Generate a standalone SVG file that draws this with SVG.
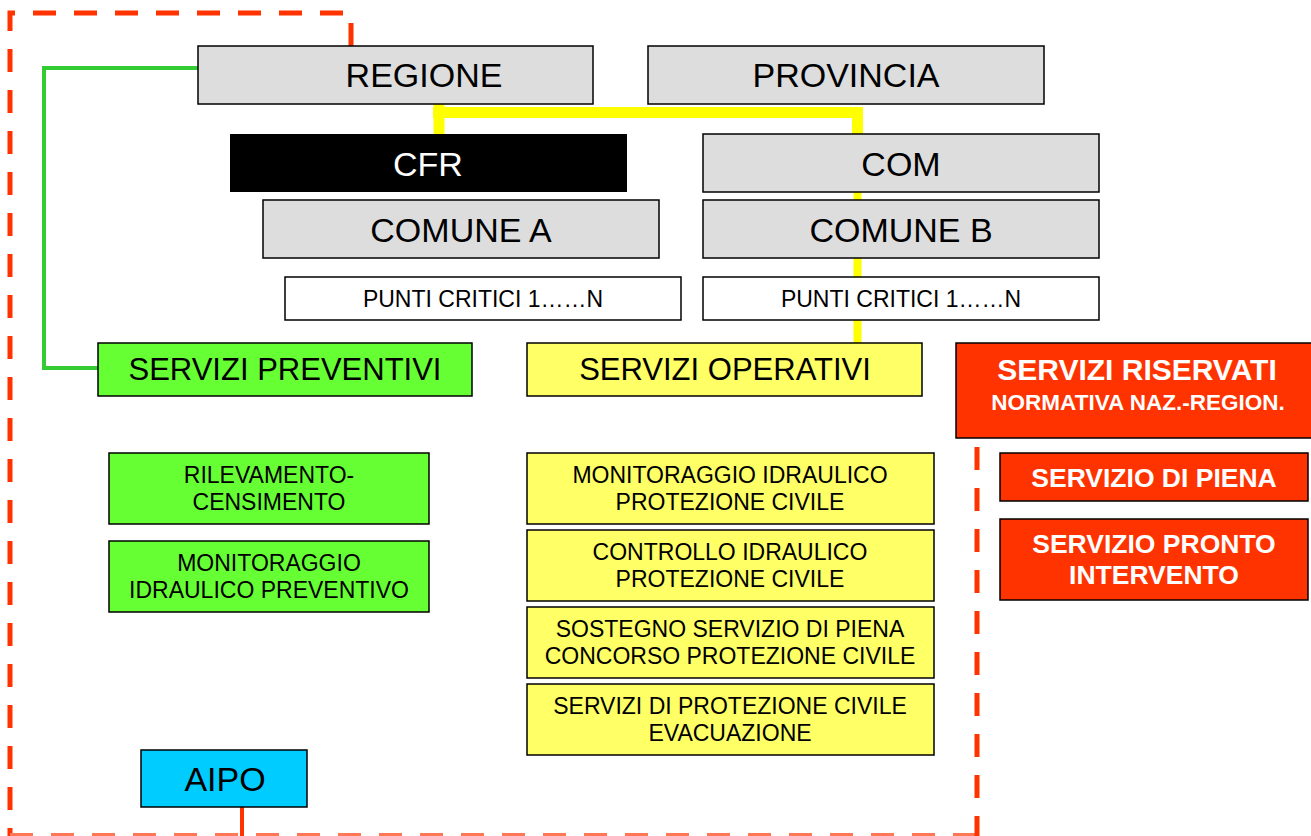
<svg xmlns="http://www.w3.org/2000/svg" width="1311" height="836" viewBox="0 0 1311 836">
<style>
.b{stroke:#000;stroke-width:1.5}
.g{fill:#dddddd}
.t{font-family:"Liberation Sans",Arial,sans-serif;text-anchor:middle;fill:#000}
.big{font-size:34px}
.mid{font-size:31px}
.sm{font-size:23px}
.xs{font-size:23px}
.w{fill:#fff;font-weight:bold}
.dash{fill:none;stroke:#ff3300;stroke-width:5;stroke-dasharray:23 18}
</style>
<rect width="1311" height="836" fill="#fff"/>
<g id="connectors">
<path class="dash" d="M351 46 V13 H10 V836"/>
<path d="M10 834.5 H977" fill="none" stroke="#ff7755" stroke-width="3" stroke-dasharray="23 18"/>
<path class="dash" d="M977 447 V836"/>
<path d="M242 807 V836" stroke="#ff3300" stroke-width="4" fill="none"/>
<path d="M198 68 H44 V368 H98" fill="none" stroke="#33cc33" stroke-width="4"/>
<path d="M439 102 V134 M433 112.5 H857.5 V134" fill="none" stroke="#ffff00" stroke-width="11"/>
<path d="M857.5 192 V200 M857.5 258 V277 M857.5 320 V343" fill="none" stroke="#ffff00" stroke-width="8"/>
</g>
<g id="regione"><rect class="b g" x="198" y="46" width="395" height="58"/><text class="t big" x="424" y="87">REGIONE</text></g>
<g id="provincia"><rect class="b g" x="648" y="46" width="396" height="58"/><text class="t big" x="846" y="87">PROVINCIA</text></g>
<g id="cfr"><rect x="230" y="134" width="397" height="58" fill="#000"/><text class="t big" x="428" y="176" style="fill:#fff">CFR</text></g>
<g id="com"><rect class="b g" x="703" y="134" width="396" height="58"/><text class="t big" x="901" y="176">COM</text></g>
<g id="comune-a"><rect class="b g" x="263" y="200" width="396" height="58"/><text class="t big" x="461" y="242">COMUNE A</text></g>
<g id="comune-b"><rect class="b g" x="703" y="200" width="396" height="58"/><text class="t big" x="901" y="242">COMUNE B</text></g>
<g id="punti-a"><rect class="b" x="285" y="277" width="396" height="43" fill="#fff"/><text class="t xs" x="483" y="307">PUNTI CRITICI 1……N</text></g>
<g id="punti-b"><rect class="b" x="703" y="277" width="396" height="43" fill="#fff"/><text class="t xs" x="901" y="307">PUNTI CRITICI 1……N</text></g>
<g id="servizi-preventivi"><rect class="b" x="98" y="343" width="374" height="53" fill="#66ff33"/><text class="t mid" x="285" y="380">SERVIZI PREVENTIVI</text></g>
<g id="servizi-operativi"><rect class="b" x="527" y="343" width="395" height="53" fill="#ffff66"/><text class="t mid" x="725" y="380">SERVIZI OPERATIVI</text></g>
<g id="servizi-riservati"><rect class="b" x="956" y="343" width="360" height="95" fill="#ff3300"/><text class="t w" x="1137" y="380" font-size="30">SERVIZI RISERVATI</text><text class="t w" x="1138" y="410" font-size="22.5">NORMATIVA NAZ.-REGION.</text></g>
<g id="servizio-piena"><rect class="b" x="1000" y="453" width="308" height="48" fill="#ff3300"/><text class="t w" x="1154" y="487" font-size="26.5">SERVIZIO DI PIENA</text></g>
<g id="servizio-pronto"><rect class="b" x="1000" y="519" width="308" height="81" fill="#ff3300"/><text class="t w" x="1154" y="553" font-size="26.5">SERVIZIO PRONTO</text><text class="t w" x="1154" y="584" font-size="26.5">INTERVENTO</text></g>
<g id="rilevamento"><rect class="b" x="109" y="453" width="320" height="71" fill="#66ff33"/><text class="t sm" x="269" y="483">RILEVAMENTO-</text><text class="t sm" x="269" y="510">CENSIMENTO</text></g>
<g id="monitoraggio-preventivo"><rect class="b" x="109" y="541" width="320" height="71" fill="#66ff33"/><text class="t sm" x="269" y="571">MONITORAGGIO</text><text class="t sm" x="269" y="598">IDRAULICO PREVENTIVO</text></g>
<g id="monitoraggio-pc"><rect class="b" x="527" y="453" width="407" height="71" fill="#ffff66"/><text class="t sm" x="730" y="483">MONITORAGGIO IDRAULICO</text><text class="t sm" x="730" y="510">PROTEZIONE CIVILE</text></g>
<g id="controllo-pc"><rect class="b" x="527" y="530" width="407" height="71" fill="#ffff66"/><text class="t sm" x="730" y="560">CONTROLLO IDRAULICO</text><text class="t sm" x="730" y="587">PROTEZIONE CIVILE</text></g>
<g id="sostegno"><rect class="b" x="527" y="607" width="407" height="71" fill="#ffff66"/><text class="t sm" x="730" y="637">SOSTEGNO SERVIZIO DI PIENA</text><text class="t sm" x="730" y="664">CONCORSO PROTEZIONE CIVILE</text></g>
<g id="evacuazione"><rect class="b" x="527" y="684" width="407" height="71" fill="#ffff66"/><text class="t sm" x="730" y="714">SERVIZI DI PROTEZIONE CIVILE</text><text class="t sm" x="730" y="741">EVACUAZIONE</text></g>
<g id="aipo"><rect class="b" x="141" y="750" width="166" height="57" fill="#00ccff"/><text class="t big" x="225" y="791">AIPO</text></g>
</svg>
